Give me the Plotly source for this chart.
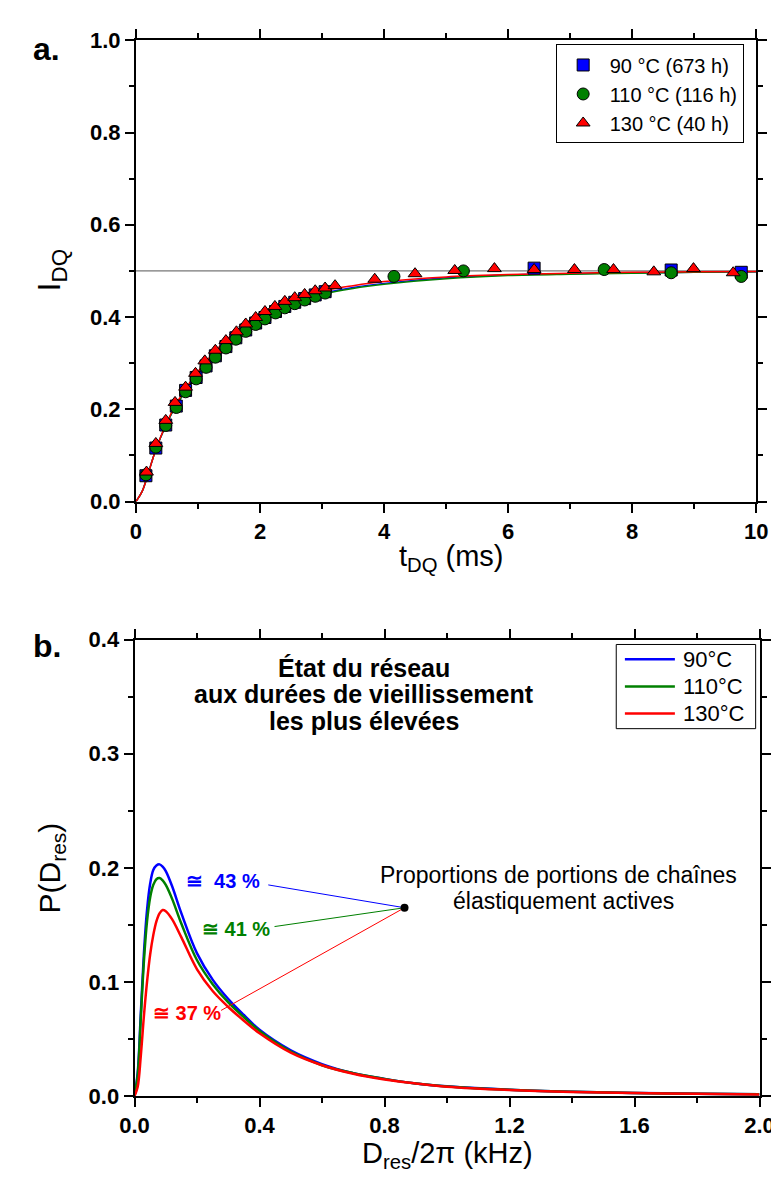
import plotly.graph_objects as go

# ---------------- Panel a: DQ build-up ----------------
blue_t = [0.16, 0.32, 0.48, 0.65, 0.80, 0.97, 1.13, 1.28, 1.45, 1.61, 1.77, 1.93, 2.08, 2.25, 2.40, 2.56, 2.72, 2.89, 3.05, 6.42, 8.63, 9.76]
blue_i = [0.056, 0.116, 0.166, 0.207, 0.241, 0.269, 0.294, 0.316, 0.336, 0.355, 0.372, 0.387, 0.399, 0.412, 0.423, 0.432, 0.440, 0.448, 0.455, 0.506, 0.502, 0.497]

green_t = [0.16, 0.32, 0.48, 0.65, 0.80, 0.97, 1.13, 1.28, 1.45, 1.61, 1.77, 1.93, 2.08, 2.25, 2.40, 2.56, 2.72, 2.89, 3.05, 4.16, 5.28, 7.55, 8.63, 9.76]
green_i = [0.058, 0.118, 0.165, 0.204, 0.238, 0.266, 0.291, 0.313, 0.333, 0.352, 0.369, 0.384, 0.396, 0.409, 0.420, 0.429, 0.437, 0.445, 0.452, 0.488, 0.500, 0.503, 0.496, 0.488]

red_t = [0.17, 0.32, 0.48, 0.63, 0.80, 0.96, 1.11, 1.28, 1.45, 1.62, 1.77, 1.93, 2.08, 2.24, 2.40, 2.56, 2.72, 2.89, 3.05, 3.21, 3.85, 4.50, 5.14, 5.78, 6.42, 7.07, 7.70, 8.35, 8.99, 9.63]
red_i = [0.064, 0.126, 0.176, 0.215, 0.248, 0.278, 0.305, 0.328, 0.349, 0.368, 0.385, 0.399, 0.412, 0.423, 0.434, 0.442, 0.449, 0.457, 0.463, 0.468, 0.482, 0.494, 0.501, 0.505, 0.503, 0.503, 0.503, 0.498, 0.505, 0.496]

fit_t = [0, 0.1, 0.2, 0.3, 0.4, 0.5, 0.6, 0.8, 1.0, 1.25, 1.5, 1.75, 2.0, 2.5, 3.0, 3.5, 4.0, 5.0, 6.0, 7.0, 8.0, 9.0, 10.0]
fit_blue = [0, 0.022, 0.062, 0.105, 0.140, 0.170, 0.197, 0.240, 0.276, 0.316, 0.350, 0.377, 0.399, 0.430, 0.451, 0.464, 0.473, 0.485, 0.491, 0.494, 0.496, 0.497, 0.498]
fit_green = [0, 0.022, 0.062, 0.105, 0.140, 0.170, 0.197, 0.240, 0.276, 0.316, 0.350, 0.377, 0.398, 0.429, 0.449, 0.462, 0.471, 0.483, 0.490, 0.493, 0.495, 0.497, 0.498]
fit_red = [0, 0.022, 0.062, 0.105, 0.141, 0.172, 0.200, 0.245, 0.282, 0.322, 0.356, 0.383, 0.405, 0.436, 0.456, 0.468, 0.477, 0.487, 0.492, 0.495, 0.497, 0.498, 0.499]

plateau_t = [0, 10]
plateau_i = [0.5, 0.5]

labels_a = ["90 °C (673 h)", "110 °C (116 h)", "130 °C (40 h)"]

# ---------------- Panel b: distributions ----------------
d_x = [0, 0.01, 0.02, 0.03, 0.04, 0.05, 0.06, 0.07, 0.08, 0.09, 0.10, 0.12, 0.15, 0.20, 0.25, 0.30, 0.35, 0.40, 0.50, 0.60, 0.70, 0.80, 0.90, 1.00, 1.20, 1.40, 1.60, 1.80, 2.00]
p_blue = [0, 0.020, 0.072, 0.125, 0.163, 0.186, 0.198, 0.202, 0.203, 0.201, 0.197, 0.184, 0.160, 0.125, 0.102, 0.085, 0.071, 0.058, 0.040, 0.028, 0.020, 0.015, 0.011, 0.0085, 0.0055, 0.0038, 0.0027, 0.0020, 0.0015]
p_green = [0, 0.018, 0.068, 0.118, 0.153, 0.174, 0.185, 0.190, 0.191, 0.189, 0.185, 0.173, 0.151, 0.119, 0.098, 0.082, 0.069, 0.057, 0.039, 0.027, 0.020, 0.015, 0.011, 0.0084, 0.0054, 0.0037, 0.0026, 0.0020, 0.0015]
p_red = [0, 0.008, 0.035, 0.070, 0.100, 0.124, 0.141, 0.153, 0.160, 0.163, 0.162, 0.155, 0.139, 0.111, 0.092, 0.078, 0.066, 0.055, 0.038, 0.027, 0.0195, 0.0145, 0.011, 0.0082, 0.0053, 0.0036, 0.0026, 0.0019, 0.0014]
labels_b = ["90°C", "110°C", "130°C"]

dot_x = [0.864]
dot_y = [0.165]
pct_text = ["≅  43 %", "≅ 41 %", "≅ 37 %"]
pct_x = [0.283, 0.325, 0.169]
pct_y = [0.188, 0.146, 0.0725]
lead_x = [0.428, 0.448, 0.277]
lead_y = [0.185, 0.1485, 0.075]

title_lines = ["État du réseau", "aux durées de vieillissement", "les plus élevées"]
note_lines = ["Proportions de portions de chaînes", "élastiquement actives"]

BLUE = "#0000ff"
GREEN = "#008000"
RED = "#ff0000"
colors = [BLUE, GREEN, RED]

W, H = 779, 1180
SANS = "Liberation Sans, Arial, sans-serif"
NARROW = "Liberation Sans Narrow, Arial Narrow, Liberation Sans, Arial, sans-serif"
TICKFONT = dict(family=SANS, size=22, color="black", weight="bold")


def px_x(v):
    return v / W


def px_y(v):
    return 1 - v / H


fig = go.Figure()

# plateau line
fig.add_trace(go.Scatter(x=plateau_t, y=plateau_i, mode="lines", line=dict(color="#555555", width=1),
                         showlegend=False, hoverinfo="skip", xaxis="x", yaxis="y"))
# fits
for fy, c in zip([fit_blue, fit_green, fit_red], colors):
    fig.add_trace(go.Scatter(x=fit_t, y=fy, mode="lines", line=dict(color=c, width=1.5, shape="spline"),
                             showlegend=False, xaxis="x", yaxis="y"))
# points
symbols = ["square", "circle", "triangle-up"]
for tt, ii, c, s, lab in zip([blue_t, green_t, red_t], [blue_i, green_i, red_i], colors, symbols, labels_a):
    fig.add_trace(go.Scatter(x=tt, y=ii, mode="markers", name=lab,
                             marker=dict(color=c, symbol=s, size=12, line=dict(color="black", width=1)),
                             xaxis="x", yaxis="y", legend="legend"))

# distributions
for py, c, lab in zip([p_blue, p_green, p_red], colors, labels_b):
    fig.add_trace(go.Scatter(x=d_x, y=py, mode="lines", name=lab, line=dict(color=c, width=2.5, shape="spline"),
                             showlegend=False, xaxis="x2", yaxis="y2"))

# leader lines
for lx, ly, c in zip(lead_x, lead_y, colors):
    fig.add_trace(go.Scatter(x=[lx, dot_x[0]], y=[ly, dot_y[0]], mode="lines", line=dict(color=c, width=1),
                             showlegend=False, xaxis="x2", yaxis="y2"))
fig.add_trace(go.Scatter(x=dot_x, y=dot_y, mode="markers", marker=dict(color="black", size=8),
                         showlegend=False, xaxis="x2", yaxis="y2"))

axis_common = dict(showgrid=False, zeroline=False, showline=True, linecolor="black", linewidth=2,
                   mirror="ticks", ticks="outside", ticklen=9, tickwidth=1.5, tickcolor="black",
                   tickfont=TICKFONT)
minor_common = dict(ticks="outside", ticklen=5, tickcolor="black", tickwidth=1.5)

fig.update_layout(
    width=W, height=H, margin=dict(l=0, r=0, t=0, b=0),
    plot_bgcolor="white", paper_bgcolor="white",
    xaxis=dict(domain=[117.5 / W, 762.5 / W], range=[0, 10], dtick=2, anchor="y",
               minor=dict(dtick=1, **minor_common), **axis_common),
    yaxis=dict(domain=[px_y(492), px_y(20.7)], range=[0, 1], dtick=0.2, tickformat=".1f", anchor="x",
               minor=dict(dtick=0.1, **minor_common), **axis_common),
    xaxis2=dict(domain=[116 / W, 766 / W], range=[0, 2], dtick=0.4, tickformat=".1f", anchor="y2",
                minor=dict(dtick=0.2, **minor_common), **axis_common),
    yaxis2=dict(domain=[px_y(1099.3), px_y(633)], range=[0, 0.4], dtick=0.1, tickformat=".1f", anchor="x2",
                minor=dict(dtick=0.05, **minor_common), **axis_common),
    legend=dict(x=px_x(554), y=px_y(25), xanchor="left", yanchor="top",
                bordercolor="black", borderwidth=1, bgcolor="white",
                font=dict(family=SANS, size=20, color="black"),
                tracegroupgap=0, itemwidth=43),
)

# manual legend for panel b (long line samples)
shapes = [dict(type="rect", xref="paper", yref="paper", x0=px_x(617), x1=px_x(762), y0=px_y(724), y1=px_y(638),
               line=dict(color="black", width=1), fillcolor="white", layer="above")]
leg_y = [653, 681, 708.5]
for ly, c in zip(leg_y, colors):
    shapes.append(dict(type="line", xref="paper", yref="paper", x0=px_x(626), x1=px_x(678), y0=px_y(ly), y1=px_y(ly),
                       line=dict(color=c, width=2.5), layer="above"))
fig.update_layout(shapes=shapes)

ann = []
for ly, lab in zip(leg_y, labels_b):
    ann.append(dict(text=lab, x=px_x(684), y=px_y(ly), xref="paper", yref="paper", xanchor="left", yanchor="middle",
                    showarrow=False, font=dict(family=SANS, size=22, color="black")))
# panel labels
ann.append(dict(text="a.", x=px_x(8), y=px_y(30), xref="paper", yref="paper", xanchor="left", yanchor="middle",
                showarrow=False, font=dict(family=SANS, size=32, color="black", weight="bold")))
ann.append(dict(text="b.", x=px_x(8), y=px_y(640), xref="paper", yref="paper", xanchor="left", yanchor="middle",
                showarrow=False, font=dict(family=SANS, size=32, color="black", weight="bold")))
# axis titles
ann.append(dict(text="t<sub>DQ</sub> (ms)", x=px_x(446), y=px_y(550), xref="paper", yref="paper",
                xanchor="center", yanchor="middle", showarrow=False,
                font=dict(family=NARROW, size=29, color="black")))
ann.append(dict(text="I<sub>DQ</sub>", x=px_x(30), y=px_y(256), xref="paper", yref="paper",
                xanchor="center", yanchor="middle", showarrow=False, textangle=-90,
                font=dict(family=NARROW, size=32, color="black")))
ann.append(dict(text="D<sub>res</sub>/2π (kHz)", x=px_x(441), y=px_y(1160), xref="paper", yref="paper",
                xanchor="center", yanchor="middle", showarrow=False,
                font=dict(family=NARROW, size=29, color="black")))
ann.append(dict(text="P(D<sub>res</sub>)", x=px_x(30), y=px_y(866), xref="paper", yref="paper",
                xanchor="center", yanchor="middle", showarrow=False, textangle=-90,
                font=dict(family=NARROW, size=30, color="black")))
# title block in panel b
for line, yy in zip(title_lines, [662, 689, 716.5]):
    ann.append(dict(text=line, x=px_x(355), y=px_y(yy), xref="paper", yref="paper", xanchor="center",
                    yanchor="middle", showarrow=False,
                    font=dict(family=SANS, size=25, color="black", weight="bold")))
for line, xx, yy in zip(note_lines, [557, 562], [873, 900]):
    ann.append(dict(text=line, x=px_x(xx), y=px_y(yy), xref="paper", yref="paper", xanchor="center",
                    yanchor="middle", showarrow=False, font=dict(family=SANS, size=23, color="black")))
for t, px, py, c in zip(pct_text, pct_x, pct_y, colors):
    ann.append(dict(text=t, x=px, y=py, xref="x2", yref="y2", xanchor="center", yanchor="middle",
                    showarrow=False, font=dict(family=SANS, size=20, color=c, weight="bold")))
fig.update_layout(annotations=ann)

fig.write_html("out.html")
